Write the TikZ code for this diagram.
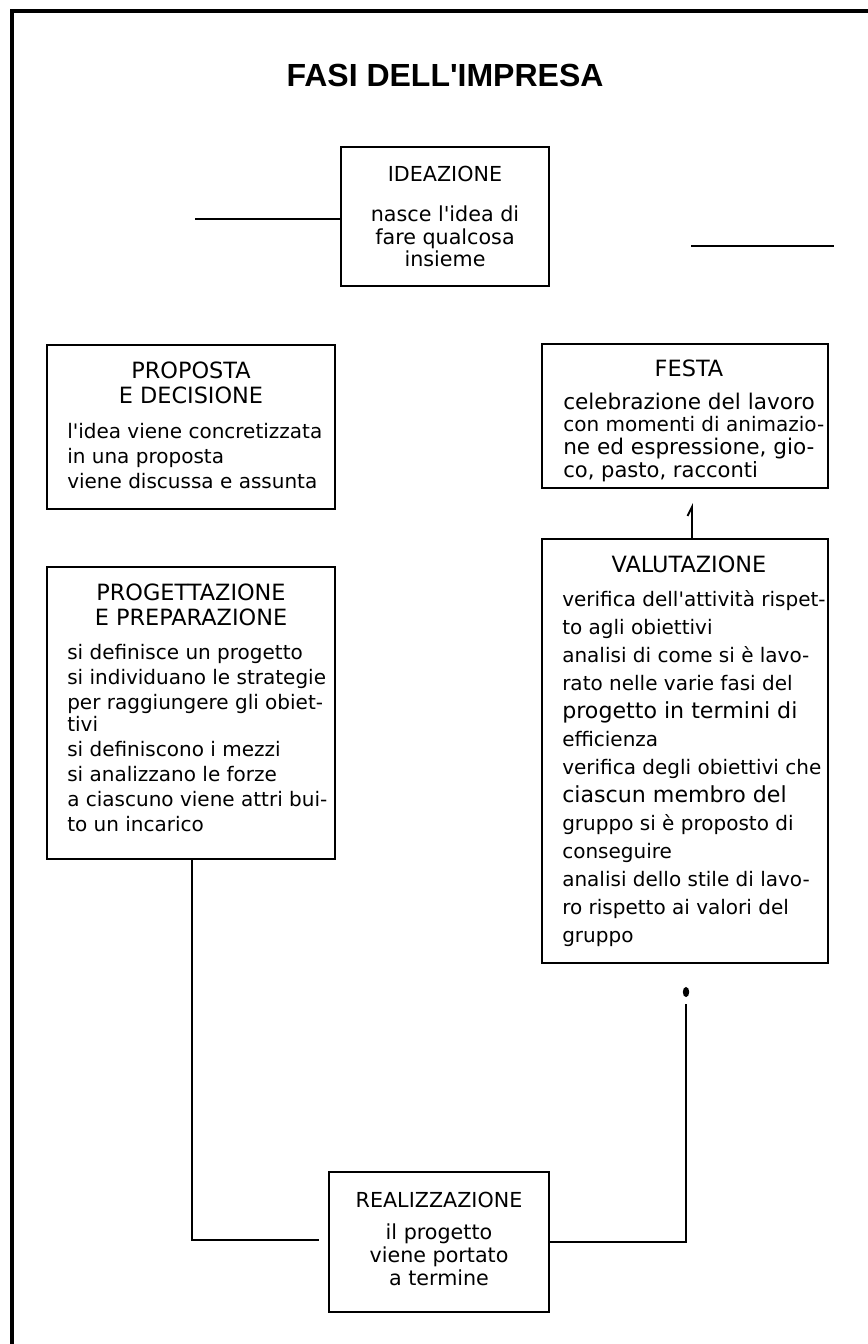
\documentclass[tikz,border=0pt]{standalone}
\usepackage{fontspec}
\setmainfont{DejaVu Sans}
\newfontfamily\titlefont{Liberation Sans}
\usetikzlibrary{fit}
\newcommand\ap{\XeTeXglyph\XeTeXglyphindex "quotesingle"\relax}
\newcommand\fsz[1]{\fontsize{#1}{16.9}\selectfont}
\begin{document}
\begin{tikzpicture}[x=0.75pt,y=-0.75pt,
  box/.style={draw, line width=1.5pt, inner sep=0pt},
  conn/.style={line width=1.4pt},
  frame/.style={line width=2.6pt, line cap=rect},
  head/.style={inner sep=0pt, align=center, font=\fontsize{16.8}{18.75}\selectfont},
  body/.style={inner sep=0pt, align=left, font=\fontsize{15}{18.75}\selectfont},
  narrow/.style={inner sep=0pt, align=center, font=\fontsize{15.5}{16.9}\selectfont},
]
\useasboundingbox (0,0) rectangle (867,1344);
\draw[frame] (12,1344) -- (12,11) -- (867,11);

\node[inner sep=0pt, anchor=base, font=\titlefont\bfseries\fontsize{24}{28}\selectfont] (title) at (445,87) {FASI DELL\ap IMPRESA};

% IDEAZIONE (multi-line nodes: base anchor = baseline of last line)
\node[box, fit={(341,147) (549,286)}] (idea) {};
\node[narrow, anchor=base] (ideaT) at (445,182) {IDEAZIONE};
\node[narrow, anchor=base] (ideaB) at (445,267) {nasce l\ap idea di\\fare qualcosa\\insieme};
\coordinate (ideaL) at (195,219);
\draw[conn] (ideaL) -- (idea.west |- ideaL);
\coordinate (rl1) at (691,246);
\coordinate (rl2) at (834,246);
\draw[conn] (rl1) -- (rl2);

% PROPOSTA
\node[box, fit={(47,345) (335,509)}] (prop) {};
\node[head, anchor=base] (propT) at (191,403) {PROPOSTA\\E DECISIONE};
\node[body, anchor=base west] (propB) at (67,488) {l\ap idea viene concretizzata\\in una proposta\\viene discussa e assunta};

% PROGETTAZIONE
\node[box, fit={(47,567) (335,859)}] (prog) {};
\node[head, anchor=base] (progT) at (191,625) {PROGETTAZIONE\\E PREPARAZIONE};
\node[body, anchor=base west] (progB) at (67,831) {si definisce un progetto\\si individuano le strategie\\per raggiungere gli obiet-\\[-2.5pt]tivi\\si definiscono i mezzi\\si analizzano le forze\\a ciascuno viene attri bui-\\to un incarico};

% FESTA
\node[box, fit={(542,344) (828,488)}] (festa) {};
\node[head, anchor=base] (festaT) at (689,376) {FESTA};
\node[body, anchor=base west, font=\fontsize{15}{16.9}\selectfont] (festaB) at (563,477) {{\fsz{16.2}celebrazione del lavoro}\\{\fsz{15}con momenti di animazio-}\\{\fsz{16.2}ne ed espressione, gio-}\\{\fsz{15.8}co, pasto, racconti}};

% VALUTAZIONE
\node[box, fit={(542,539) (828,963)}] (val) {};
\node[head, anchor=base] (valT) at (689,572) {VALUTAZIONE};
\node[body, anchor=base west, font=\fontsize{15}{21}\selectfont] (valB) at (562,942) {verifica dell\ap attività rispet-\\to agli obiettivi\\analisi di come si è lavo-\\rato nelle varie fasi del\\{\fontsize{16.6}{21}\selectfont progetto in termini di}\\efficienza\\verifica degli obiettivi che\\{\fontsize{16.6}{21}\selectfont ciascun membro del}\\gruppo si è proposto di\\conseguire\\analisi dello stile di lavo-\\ro rispetto ai valori del\\gruppo};

\coordinate (fv) at (692,507);
\draw[conn] (val.north -| fv) -- (fv) -- ++(-4.5,9);

% REALIZZAZIONE
\node[box, fit={(329,1172) (549,1312)}] (real) {};
\node[narrow, anchor=base] (realT) at (439,1207) {REALIZZAZIONE};
\node[narrow, anchor=base] (realB) at (439,1285) {il progetto\\viene portato\\a termine};

\coordinate (lbot) at (192,1240);
\coordinate (lend) at (319,1240);
\draw[conn] (prog.south -| lbot) -- (lbot) -- (lend);

\coordinate (dot) at (686,992);
\fill (dot) ellipse [x radius=2.4pt, y radius=3.8pt];
\coordinate (rtop) at (686,1004);
\coordinate (rbot) at (686,1242);
\draw[conn] (rtop) -- (rbot) -- (real.east |- rbot);
\end{tikzpicture}
\end{document}
